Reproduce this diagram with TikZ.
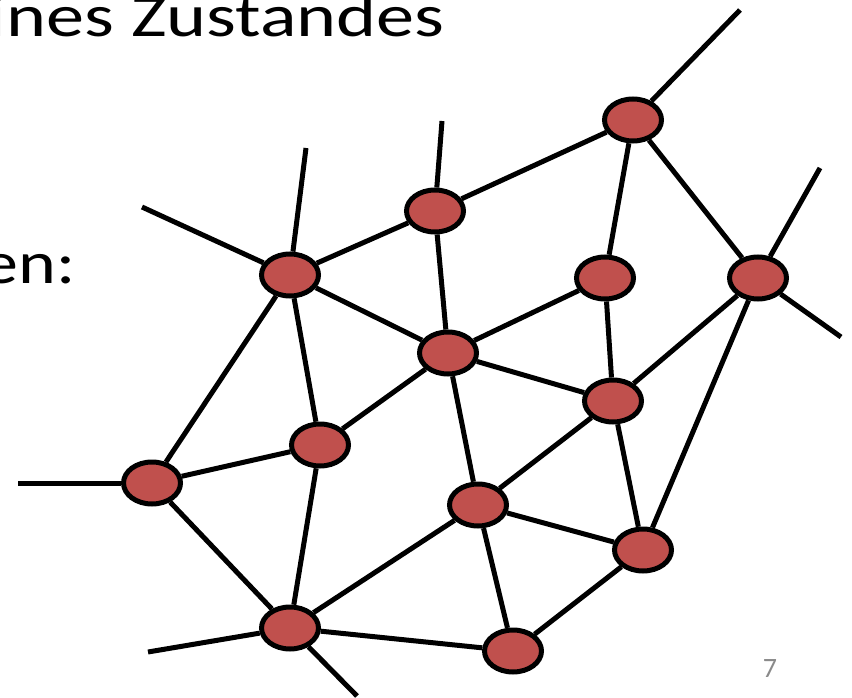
\documentclass[tikz,border=0pt]{standalone}
\usepackage{fontspec}
\usepackage{graphicx}
\setmainfont{Carlito}
\usetikzlibrary{backgrounds,shapes.geometric}
\definecolor{nodered}{HTML}{C0504D}
\definecolor{pagegray}{HTML}{8A8A8A}
\begin{document}
\begin{tikzpicture}[x=1pt,y=-1pt,
  vertex/.style={ellipse,draw=black,fill=nodered,line width=5pt,
    minimum width=57pt,minimum height=42pt,inner sep=0pt},
  link/.style={line width=5pt,line cap=butt},
  headtext/.style={font=\fontsize{60}{72}\selectfont,inner sep=0pt}]
\useasboundingbox (0,0) rectangle (852,698);

% text fragments
\node[headtext,anchor=base east] (t1) at (445,37) {\scalebox{1.27}[1]{eines Zustandes}};
\node[headtext,anchor=base east] (t2) at (76,283) {\scalebox{1.2}[1]{en:}};
\node[font=\fontsize{28}{32}\selectfont,text=pagegray,inner sep=0pt,anchor=base] (pg) at (770,677) {7};

% vertices
\node[vertex] (A) at (633,120) {};
\node[vertex] (B) at (435,211) {};
\node[vertex] (C) at (290,275) {};
\node[vertex] (D) at (605,278) {};
\node[vertex] (E) at (758,278) {};
\node[vertex] (F) at (448,353) {};
\node[vertex] (G) at (613,401) {};
\node[vertex] (H) at (320,445) {};
\node[vertex] (I) at (152,483) {};
\node[vertex] (J) at (478,505) {};
\node[vertex] (K) at (643,550) {};
\node[vertex] (L) at (290,628) {};
\node[vertex] (M) at (513,651) {};

% loose ends of edges leaving the picture
\coordinate (a1) at (740,10);
\coordinate (b1) at (442,121);
\coordinate (c1) at (306,148);
\coordinate (c2) at (142,207);
\coordinate (e1) at (820,168);
\coordinate (e2) at (841,337);
\coordinate (i1) at (18,483);
\coordinate (l1) at (148,652);
\coordinate (l2) at (357,696);

\begin{scope}[on background layer]
  \draw[link] (A) -- (a1);
  \draw[link] (B) -- (b1);
  \draw[link] (C) -- (c1);
  \draw[link] (C) -- (c2);
  \draw[link] (E) -- (e1);
  \draw[link] (E) -- (e2);
  \draw[link] (I) -- (i1);
  \draw[link] (L) -- (l1);
  \draw[link] (L) -- (l2);
  \draw[link] (A) -- (B);
  \draw[link] (A) -- (D);
  \draw[link] (A) -- (E);
  \draw[link] (B) -- (C);
  \draw[link] (B) -- (F);
  \draw[link] (C) -- (F);
  \draw[link] (C) -- (H);
  \draw[link] (C) -- (I);
  \draw[link] (D) -- (F);
  \draw[link] (D) -- (G);
  \draw[link] (E) -- (G);
  \draw[link] (E) -- (K);
  \draw[link] (F) -- (G);
  \draw[link] (F) -- (H);
  \draw[link] (F) -- (J);
  \draw[link] (G) -- (J);
  \draw[link] (G) -- (K);
  \draw[link] (H) -- (I);
  \draw[link] (H) -- (L);
  \draw[link] (I) -- (L);
  \draw[link] (J) -- (K);
  \draw[link] (J) -- (L);
  \draw[link] (J) -- (M);
  \draw[link] (K) -- (M);
  \draw[link] (L) -- (M);
\end{scope}
\end{tikzpicture}
\end{document}
